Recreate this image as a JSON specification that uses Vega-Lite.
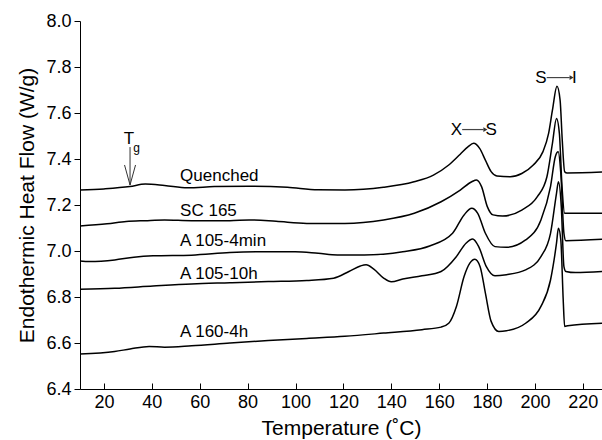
{
  "$schema": "https://vega.github.io/schema/vega-lite/v6.json",
  "width": 522,
  "height": 368,
  "autosize": {"type": "none"},
  "padding": {"left": 80, "top": 21, "right": 0, "bottom": 51},
  "background": "white",
  "config": {
    "view": {"stroke": null},
    "font": "Liberation Sans",
    "axis": {"grid": false, "domainColor": "black", "tickColor": "black", "labelColor": "black", "titleColor": "black", "titleFontWeight": "normal", "labelFont": "Liberation Sans", "titleFont": "Liberation Sans"}
  },
  "datasets": {
    "curves": [
      {"s": "Quenched", "T": 10, "V": 7.265}, {"s": "Quenched", "T": 20, "V": 7.27}, {"s": "Quenched", "T": 30.8, "V": 7.28}, {"s": "Quenched", "T": 37.3, "V": 7.291}, {"s": "Quenched", "T": 45.3, "V": 7.285}, {"s": "Quenched", "T": 54.9, "V": 7.275}, {"s": "Quenched", "T": 66.1, "V": 7.28}, {"s": "Quenched", "T": 80.6, "V": 7.282}, {"s": "Quenched", "T": 96.6, "V": 7.277}, {"s": "Quenched", "T": 109.4, "V": 7.266}, {"s": "Quenched", "T": 120.6, "V": 7.265}, {"s": "Quenched", "T": 136.7, "V": 7.277}, {"s": "Quenched", "T": 149.5, "V": 7.301}, {"s": "Quenched", "T": 157.6, "V": 7.33}, {"s": "Quenched", "T": 164, "V": 7.374}, {"s": "Quenched", "T": 168.8, "V": 7.421}, {"s": "Quenched", "T": 172, "V": 7.453}, {"s": "Quenched", "T": 174.4, "V": 7.468}, {"s": "Quenched", "T": 176.9, "V": 7.446}, {"s": "Quenched", "T": 179.3, "V": 7.395}, {"s": "Quenched", "T": 181.7, "V": 7.345}, {"s": "Quenched", "T": 184.1, "V": 7.326}, {"s": "Quenched", "T": 189.7, "V": 7.323}, {"s": "Quenched", "T": 194.5, "V": 7.337}, {"s": "Quenched", "T": 199.3, "V": 7.374}, {"s": "Quenched", "T": 203.3, "V": 7.431}, {"s": "Quenched", "T": 205.7, "V": 7.511}, {"s": "Quenched", "T": 207.3, "V": 7.612}, {"s": "Quenched", "T": 209.2, "V": 7.716}, {"s": "Quenched", "T": 210.5, "V": 7.656}, {"s": "Quenched", "T": 211.4, "V": 7.482}, {"s": "Quenched", "T": 212.4, "V": 7.345}, {"s": "Quenched", "T": 213.4, "V": 7.339}, {"s": "Quenched", "T": 228, "V": 7.343},
      {"s": "SC 165", "T": 10, "V": 7.109}, {"s": "SC 165", "T": 21.3, "V": 7.118}, {"s": "SC 165", "T": 29.3, "V": 7.128}, {"s": "SC 165", "T": 37.3, "V": 7.132}, {"s": "SC 165", "T": 45.3, "V": 7.135}, {"s": "SC 165", "T": 56.6, "V": 7.132}, {"s": "SC 165", "T": 72.6, "V": 7.132}, {"s": "SC 165", "T": 80.6, "V": 7.135}, {"s": "SC 165", "T": 91.9, "V": 7.129}, {"s": "SC 165", "T": 104.7, "V": 7.12}, {"s": "SC 165", "T": 120.6, "V": 7.12}, {"s": "SC 165", "T": 136.8, "V": 7.135}, {"s": "SC 165", "T": 149.6, "V": 7.164}, {"s": "SC 165", "T": 160.8, "V": 7.214}, {"s": "SC 165", "T": 168.8, "V": 7.265}, {"s": "SC 165", "T": 173.6, "V": 7.301}, {"s": "SC 165", "T": 175.6, "V": 7.309}, {"s": "SC 165", "T": 177.7, "V": 7.28}, {"s": "SC 165", "T": 180.1, "V": 7.193}, {"s": "SC 165", "T": 182.5, "V": 7.157}, {"s": "SC 165", "T": 186.5, "V": 7.152}, {"s": "SC 165", "T": 194.5, "V": 7.178}, {"s": "SC 165", "T": 201, "V": 7.236}, {"s": "SC 165", "T": 205, "V": 7.323}, {"s": "SC 165", "T": 207.3, "V": 7.468}, {"s": "SC 165", "T": 209, "V": 7.576}, {"s": "SC 165", "T": 210.2, "V": 7.511}, {"s": "SC 165", "T": 211.3, "V": 7.28}, {"s": "SC 165", "T": 212.4, "V": 7.164}, {"s": "SC 165", "T": 213.7, "V": 7.164}, {"s": "SC 165", "T": 228, "V": 7.164},
      {"s": "A 105-4min", "T": 10, "V": 6.957}, {"s": "A 105-4min", "T": 14, "V": 6.954}, {"s": "A 105-4min", "T": 24.5, "V": 6.961}, {"s": "A 105-4min", "T": 32.5, "V": 6.973}, {"s": "A 105-4min", "T": 40.5, "V": 6.979}, {"s": "A 105-4min", "T": 56.6, "V": 6.982}, {"s": "A 105-4min", "T": 72.6, "V": 6.993}, {"s": "A 105-4min", "T": 88.6, "V": 6.997}, {"s": "A 105-4min", "T": 99.9, "V": 6.997}, {"s": "A 105-4min", "T": 109.5, "V": 6.99}, {"s": "A 105-4min", "T": 117.5, "V": 6.983}, {"s": "A 105-4min", "T": 128.7, "V": 6.983}, {"s": "A 105-4min", "T": 144.8, "V": 6.997}, {"s": "A 105-4min", "T": 156, "V": 7.022}, {"s": "A 105-4min", "T": 165.6, "V": 7.077}, {"s": "A 105-4min", "T": 170.4, "V": 7.157}, {"s": "A 105-4min", "T": 173.6, "V": 7.186}, {"s": "A 105-4min", "T": 176.1, "V": 7.164}, {"s": "A 105-4min", "T": 179.3, "V": 7.077}, {"s": "A 105-4min", "T": 183.3, "V": 7.019}, {"s": "A 105-4min", "T": 188.1, "V": 7.016}, {"s": "A 105-4min", "T": 196.1, "V": 7.048}, {"s": "A 105-4min", "T": 202.5, "V": 7.135}, {"s": "A 105-4min", "T": 206.5, "V": 7.28}, {"s": "A 105-4min", "T": 208.5, "V": 7.41}, {"s": "A 105-4min", "T": 209.7, "V": 7.431}, {"s": "A 105-4min", "T": 210.8, "V": 7.337}, {"s": "A 105-4min", "T": 212.1, "V": 7.077}, {"s": "A 105-4min", "T": 212.9, "V": 7.045}, {"s": "A 105-4min", "T": 228, "V": 7.051},
      {"s": "A 105-10h", "T": 10, "V": 6.834}, {"s": "A 105-10h", "T": 24.5, "V": 6.838}, {"s": "A 105-10h", "T": 40.5, "V": 6.848}, {"s": "A 105-10h", "T": 56.6, "V": 6.857}, {"s": "A 105-10h", "T": 72.6, "V": 6.862}, {"s": "A 105-10h", "T": 88.6, "V": 6.867}, {"s": "A 105-10h", "T": 104.7, "V": 6.872}, {"s": "A 105-10h", "T": 115.9, "V": 6.882}, {"s": "A 105-10h", "T": 122.3, "V": 6.911}, {"s": "A 105-10h", "T": 127.1, "V": 6.935}, {"s": "A 105-10h", "T": 129.5, "V": 6.94}, {"s": "A 105-10h", "T": 132.7, "V": 6.921}, {"s": "A 105-10h", "T": 136.8, "V": 6.882}, {"s": "A 105-10h", "T": 140, "V": 6.866}, {"s": "A 105-10h", "T": 144.8, "V": 6.878}, {"s": "A 105-10h", "T": 152.8, "V": 6.892}, {"s": "A 105-10h", "T": 160.8, "V": 6.911}, {"s": "A 105-10h", "T": 167.2, "V": 6.976}, {"s": "A 105-10h", "T": 171.2, "V": 7.034}, {"s": "A 105-10h", "T": 174, "V": 7.052}, {"s": "A 105-10h", "T": 176.5, "V": 7.019}, {"s": "A 105-10h", "T": 179.7, "V": 6.932}, {"s": "A 105-10h", "T": 183.3, "V": 6.892}, {"s": "A 105-10h", "T": 188.1, "V": 6.897}, {"s": "A 105-10h", "T": 196.1, "V": 6.918}, {"s": "A 105-10h", "T": 202.5, "V": 6.976}, {"s": "A 105-10h", "T": 206.5, "V": 7.077}, {"s": "A 105-10h", "T": 209, "V": 7.251}, {"s": "A 105-10h", "T": 209.8, "V": 7.301}, {"s": "A 105-10h", "T": 211, "V": 7.193}, {"s": "A 105-10h", "T": 212.1, "V": 6.932}, {"s": "A 105-10h", "T": 212.9, "V": 6.911}, {"s": "A 105-10h", "T": 216.9, "V": 6.906}, {"s": "A 105-10h", "T": 228, "V": 6.911},
      {"s": "A 160-4h", "T": 10, "V": 6.552}, {"s": "A 160-4h", "T": 24.5, "V": 6.563}, {"s": "A 160-4h", "T": 30.9, "V": 6.574}, {"s": "A 160-4h", "T": 38.9, "V": 6.585}, {"s": "A 160-4h", "T": 45.3, "V": 6.582}, {"s": "A 160-4h", "T": 56.6, "V": 6.588}, {"s": "A 160-4h", "T": 72.6, "V": 6.6}, {"s": "A 160-4h", "T": 88.6, "V": 6.611}, {"s": "A 160-4h", "T": 104.7, "V": 6.62}, {"s": "A 160-4h", "T": 120.6, "V": 6.629}, {"s": "A 160-4h", "T": 136.8, "V": 6.643}, {"s": "A 160-4h", "T": 152.8, "V": 6.658}, {"s": "A 160-4h", "T": 160.8, "V": 6.669}, {"s": "A 160-4h", "T": 164, "V": 6.686}, {"s": "A 160-4h", "T": 167.2, "V": 6.759}, {"s": "A 160-4h", "T": 170.4, "V": 6.889}, {"s": "A 160-4h", "T": 172.8, "V": 6.947}, {"s": "A 160-4h", "T": 174.9, "V": 6.964}, {"s": "A 160-4h", "T": 177.1, "V": 6.932}, {"s": "A 160-4h", "T": 179.3, "V": 6.817}, {"s": "A 160-4h", "T": 181.7, "V": 6.694}, {"s": "A 160-4h", "T": 184.9, "V": 6.65}, {"s": "A 160-4h", "T": 188.1, "V": 6.653}, {"s": "A 160-4h", "T": 196.1, "V": 6.686}, {"s": "A 160-4h", "T": 202.5, "V": 6.759}, {"s": "A 160-4h", "T": 206.5, "V": 6.874}, {"s": "A 160-4h", "T": 209, "V": 7.034}, {"s": "A 160-4h", "T": 209.8, "V": 7.099}, {"s": "A 160-4h", "T": 210.8, "V": 7.048}, {"s": "A 160-4h", "T": 211.8, "V": 6.788}, {"s": "A 160-4h", "T": 212.4, "V": 6.672}, {"s": "A 160-4h", "T": 213.7, "V": 6.675}, {"s": "A 160-4h", "T": 228, "V": 6.686}
    ],
    "labels": [
      {"text": "Quenched", "T": 51.8, "V": 7.324},
      {"text": "SC 165", "T": 51.8, "V": 7.175},
      {"text": "A 105-4min", "T": 51.8, "V": 7.044},
      {"text": "A 105-10h", "T": 51.8, "V": 6.901},
      {"text": "A 160-4h", "T": 51.8, "V": 6.646}
    ],
    "marks": [
      {"text": "T", "T": 30.4, "V": 7.489, "size": 17},
      {"text": "g", "T": 33.6, "V": 7.448, "size": 12},
      {"text": "X", "T": 167.2, "V": 7.528, "size": 17},
      {"text": "S", "T": 181.7, "V": 7.528, "size": 17},
      {"text": "S", "T": 202.5, "V": 7.754, "size": 17},
      {"text": "I", "T": 216.5, "V": 7.754, "size": 17}
    ],
    "hArrows": [
      {"T": 169.6, "T2": 178.5, "Th": 179.3, "V": 7.528},
      {"T": 204.9, "T2": 214.5, "Th": 215.3, "V": 7.754}
    ],
    "vArrows": [
      {"T": 30.9, "V": 7.452, "V2": 7.287}
    ]
  },
  "layer": [
    {
      "data": {"name": "curves"},
      "mark": {"type": "line", "color": "black", "strokeWidth": 1.5, "interpolate": "monotone", "clip": true},
      "encoding": {
        "x": {"field": "T", "type": "quantitative", "scale": {"domain": [10, 228], "nice": false, "zero": false},
          "axis": {"title": "Temperature (˚C)", "values": [20, 40, 60, 80, 100, 120, 140, 160, 180, 200, 220], "tickSize": -6, "labelFontSize": 18, "titleFontSize": 21, "labelPadding": 10, "titlePadding": 6, "labelFlush": false}},
        "y": {"field": "V", "type": "quantitative", "scale": {"domain": [6.4, 8.0], "nice": false, "zero": false},
          "axis": {"title": "Endothermic Heat Flow (W/g)", "values": [6.4, 6.6, 6.8, 7.0, 7.2, 7.4, 7.6, 7.8, 8.0], "format": ".1f", "tickSize": 6, "labelFontSize": 18, "titleFontSize": 21, "labelPadding": 3, "titlePadding": 8, "labelFlush": false}},
        "detail": {"field": "s", "type": "nominal"}
      }
    },
    {
      "mark": {"type": "rule", "color": "black", "strokeWidth": 1},
      "encoding": {"y": {"datum": 8.0}}
    },
    {
      "data": {"name": "labels"},
      "mark": {"type": "text", "align": "left", "baseline": "middle", "fontSize": 17, "color": "black"},
      "encoding": {"x": {"field": "T", "type": "quantitative"}, "y": {"field": "V", "type": "quantitative"}, "text": {"field": "text"}}
    },
    {
      "data": {"name": "marks"},
      "mark": {"type": "text", "align": "center", "baseline": "middle", "color": "black"},
      "encoding": {"x": {"field": "T", "type": "quantitative"}, "y": {"field": "V", "type": "quantitative"}, "text": {"field": "text"}, "size": {"field": "size", "type": "quantitative", "scale": null}}
    },
    {
      "data": {"name": "hArrows"},
      "mark": {"type": "rule", "color": "#444444", "strokeWidth": 1.2},
      "encoding": {"x": {"field": "T", "type": "quantitative"}, "x2": {"field": "T2"}, "y": {"field": "V", "type": "quantitative"}}
    },
    {
      "data": {"name": "hArrows"},
      "mark": {"type": "point", "shape": "triangle-right", "filled": true, "color": "#333333", "size": 22, "opacity": 1},
      "encoding": {"x": {"field": "Th", "type": "quantitative"}, "y": {"field": "V", "type": "quantitative"}}
    },
    {
      "data": {"name": "vArrows"},
      "mark": {"type": "rule", "color": "#333333", "strokeWidth": 1},
      "encoding": {"x": {"field": "T", "type": "quantitative"}, "y": {"field": "V", "type": "quantitative"}, "y2": {"field": "V2"}}
    },
    {
      "data": {"name": "vArrows"},
      "mark": {"type": "point", "shape": "M-1.1,-4L0,0L1.1,-4", "filled": false, "color": "#333333", "strokeWidth": 1, "size": 100, "opacity": 1},
      "encoding": {"x": {"field": "T", "type": "quantitative"}, "y": {"field": "V2", "type": "quantitative"}}
    }
  ]
}
